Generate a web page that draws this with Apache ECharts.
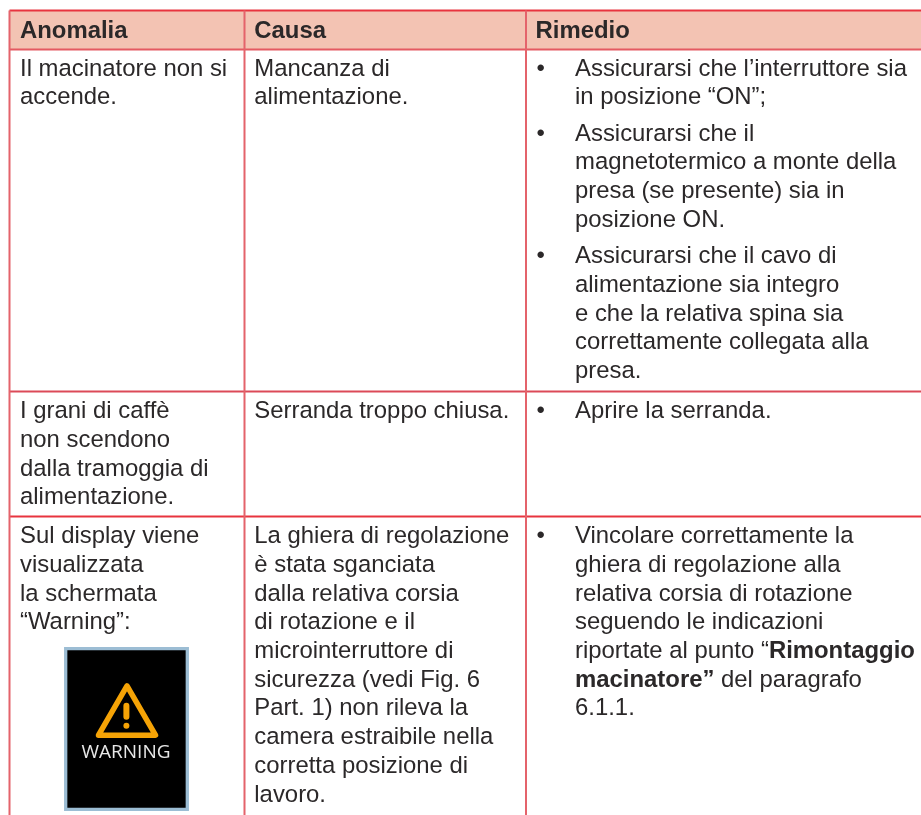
<!DOCTYPE html>
<html>
<head>
<meta charset="utf-8">
<title>Anomalia</title>
<script src="https://cdn.jsdelivr.net/npm/echarts@6/dist/echarts.min.js"></script>
<style>
html, body { margin: 0; padding: 0; background: #fff; }
#main { width: 921px; height: 815px; }
</style>
</head>
<body>
<div id="main"></div>
<script>
// testi della tabella
var headers = ['Anomalia', 'Causa', 'Rimedio'];
var anomalia1 = ['Il macinatore non si', 'accende.'];
var anomalia2 = ['I grani di caffè', 'non scendono', 'dalla tramoggia di', 'alimentazione.'];
var anomalia3 = ['Sul display viene', 'visualizzata', 'la schermata', '“Warning”:'];
var causa1 = ['Mancanza di', 'alimentazione.'];
var causa2 = ['Serranda troppo chiusa.'];
var causa3 = ['La ghiera di regolazione', 'è stata sganciata', 'dalla relativa corsia', 'di rotazione e il', 'microinterruttore di', 'sicurezza (vedi Fig. 6', 'Part. 1) non rileva la', 'camera estraibile nella', 'corretta posizione di', 'lavoro.'];
var rimedio1a = ['Assicurarsi che l’interruttore sia', 'in posizione “ON”;'];
var rimedio1b = ['Assicurarsi che il', 'magnetotermico a monte della', 'presa (se presente) sia in', 'posizione ON.'];
var rimedio1c = ['Assicurarsi che il cavo di', 'alimentazione sia integro', 'e che la relativa spina sia', 'correttamente collegata alla', 'presa.'];
var rimedio2 = ['Aprire la serranda.'];
var rimedio3 = ['Vincolare correttamente la', 'ghiera di regolazione alla', 'relativa corsia di rotazione', 'seguendo le indicazioni', 'riportate al punto “{b|Rimontaggio}', '{b|macinatore”} del paragrafo', '6.1.1.'];
var warningLabel = 'WARNING';

// layout
var font = '23.9px "Liberation Sans", Arial, sans-serif';
var boldFont = 'bold 23.9px "Liberation Sans", Arial, sans-serif';
var ink = '#2b2829';
var lineStep = 28.7;
var colX = [9.5, 244.5, 526];
var textX = [20, 254.3, 535.5];
var bodyX = 575;
var bulletX = 536.5;
var rowY = [10.5, 49.5, 391.5, 516.5];

var elements = [];

function addText(str, x, y, f, fill, align) {
    elements.push({
        type: 'text',
        z: 5,
        style: {
            text: str, x: x, y: y, font: f, fill: fill || ink,
            verticalAlign: 'middle', align: align || 'left',
            rich: { b: { font: boldFont, fill: ink } }
        }
    });
}
function addLines(list, x, y) {
    list.forEach(function (s, i) { addText(s, x, y + i * lineStep, font); });
}
function addBullet(list, y) {
    addText('•', bulletX, y, font);
    addLines(list, bodyX, y);
}
function addRule(x1, y1, x2, y2, color, w) {
    elements.push({
        type: 'line', z: 3,
        shape: { x1: x1, y1: y1, x2: x2, y2: y2 },
        style: { stroke: color, lineWidth: w }
    });
}

// intestazione
elements.push({
    type: 'rect', z: 1,
    shape: { x: colX[0], y: rowY[0], width: 921 - colX[0], height: rowY[1] - rowY[0] },
    style: { fill: '#f3c3b3' }
});
headers.forEach(function (h, i) { addText(h, textX[i], 31, boldFont); });

// righe
addRule(colX[0], rowY[0], 921, rowY[0], '#e8343f', 2);
addRule(colX[0], rowY[1], 921, rowY[1], '#e45a62', 2);
addRule(colX[0], rowY[2], 921, rowY[2], '#dc4a58', 2);
addRule(colX[0], rowY[3], 921, rowY[3], '#e8343f', 2);
colX.forEach(function (x) { addRule(x, rowY[0], x, 815, '#e4636b', 2); });

// riga 1
addLines(anomalia1, textX[0], 69);
addLines(causa1, textX[1], 69);
addBullet(rimedio1a, 69);
addBullet(rimedio1b, 134);
addBullet(rimedio1c, 256.7);

// riga 2
addLines(anomalia2, textX[0], 411.7);
addLines(causa2, textX[1], 411.7);
addBullet(rimedio2, 411.7);

// riga 3
addLines(anomalia3, textX[0], 536.7);
addLines(causa3, textX[1], 536.7);
addBullet(rimedio3, 536.7);

// schermata warning
elements.push({
    type: 'rect', z: 2,
    shape: { x: 65.7, y: 648.7, width: 121.6, height: 160.6 },
    style: { fill: '#000', stroke: '#9cbdd4', lineWidth: 3.3 }
});
elements.push({
    type: 'polygon', z: 4,
    shape: { points: [[127, 685.8], [155.5, 735.2], [98.5, 735.2]] },
    style: { fill: 'none', stroke: '#f5a306', lineWidth: 5.5, lineJoin: 'round' }
});
elements.push({
    type: 'rect', z: 4,
    shape: { x: 123.4, y: 702.7, width: 6, height: 17, r: 3 },
    style: { fill: '#f5a306' }
});
elements.push({
    type: 'circle', z: 4,
    shape: { cx: 126.4, cy: 725.7, r: 3 },
    style: { fill: '#f5a306' }
});
addText(warningLabel, 126, 753, '19px "Open Sans", sans-serif', '#e8e8e8', 'center');

var dom = document.getElementById('main');
var myChart = echarts.init(dom, null, { renderer: 'canvas' });
var option = {
    backgroundColor: '#ffffff',
    animation: false,
    graphic: { elements: elements }
};
myChart.setOption(option, true);
</script>
</body>
</html>
